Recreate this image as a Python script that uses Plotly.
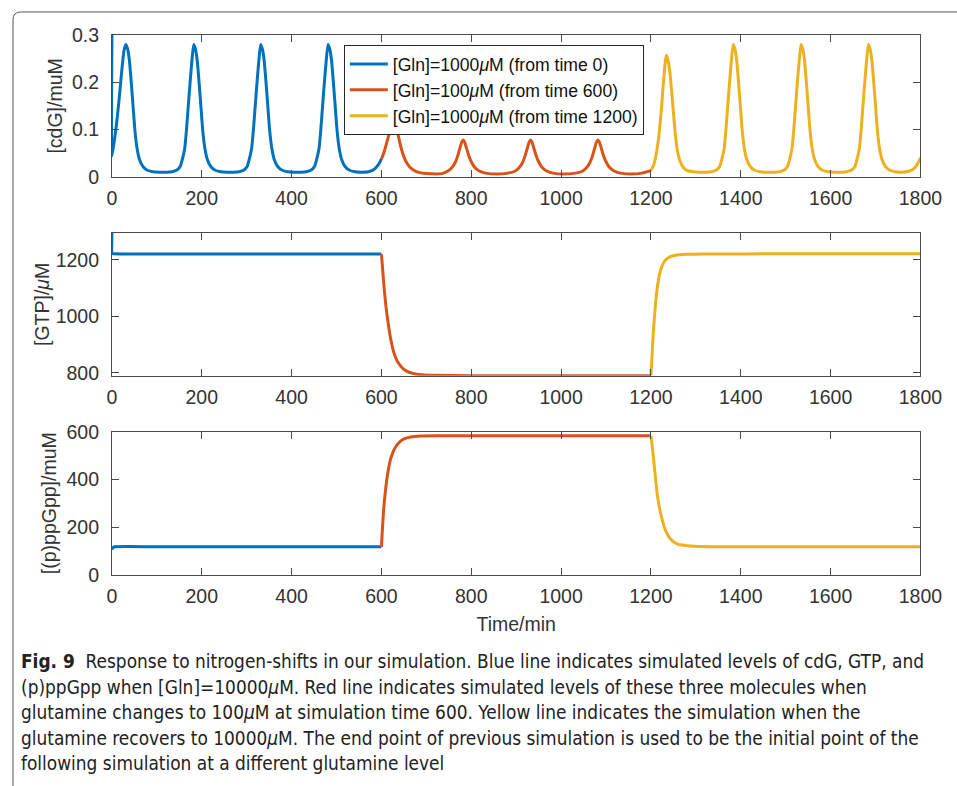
import plotly.graph_objects as go

# ---------------- data ----------------
# cdG, blue segment ([Gln]=1000 uM, from time 0)
cdg_blue_t = [0, 0, 5, 10, 15, 19, 23, 27, 31, 35, 39, 43, 47, 51, 56, 61, 69, 79, 91, 106,
              122, 134, 144, 152, 157, 162, 166, 170, 174, 178, 182, 186, 190, 194, 198, 202, 207, 212, 220, 230, 242, 257,
              271, 283, 293, 301, 306, 311, 315, 319, 323, 327, 331, 335, 339, 343, 347, 351, 356, 361, 369, 379, 391, 406,
              421, 433, 443, 451, 456, 461, 465, 469, 473, 477, 481, 485, 489, 493, 497, 501, 506, 511, 519, 529, 541, 556,
              571, 584, 594, 600]
cdg_blue_v = [0.30, 0.044, 0.075, 0.11, 0.155, 0.195, 0.235, 0.268, 0.28, 0.27, 0.245, 0.20, 0.15, 0.10, 0.06, 0.038, 0.022, 0.014, 0.011, 0.010,
              0.010, 0.011, 0.014, 0.022, 0.038, 0.06, 0.10, 0.15, 0.20, 0.245, 0.28, 0.27, 0.245, 0.20, 0.15, 0.10, 0.06, 0.038, 0.022, 0.014, 0.011, 0.010,
              0.010, 0.011, 0.014, 0.022, 0.038, 0.06, 0.10, 0.15, 0.20, 0.245, 0.28, 0.27, 0.245, 0.20, 0.15, 0.10, 0.06, 0.038, 0.022, 0.014, 0.011, 0.010,
              0.010, 0.011, 0.014, 0.022, 0.038, 0.06, 0.10, 0.15, 0.20, 0.245, 0.28, 0.27, 0.245, 0.20, 0.15, 0.10, 0.06, 0.038, 0.022, 0.014, 0.011, 0.010,
              0.011, 0.016, 0.027, 0.038]

# cdG, red segment ([Gln]=100 uM, from time 600)
cdg_red_t = [600, 605, 611, 617, 622, 625, 628, 631, 634, 638, 643, 649, 655, 662, 672, 685, 700, 720, 735,
             747, 757, 764, 770, 775, 779, 782, 785, 789, 794, 800, 807, 817, 832, 857,
             882, 897, 907, 914, 920, 925, 929, 932, 935, 939, 944, 950, 957, 967, 982, 1007,
             1032, 1047, 1057, 1064, 1070, 1075, 1079, 1082, 1085, 1089, 1094, 1100, 1107, 1117, 1132, 1157, 1180, 1192, 1200]
cdg_red_v = [0.038, 0.050, 0.070, 0.090, 0.104, 0.111, 0.114, 0.111, 0.102, 0.085, 0.064, 0.045, 0.032, 0.022, 0.014, 0.009, 0.007, 0.006, 0.007,
             0.012, 0.020, 0.030, 0.045, 0.062, 0.074, 0.078, 0.074, 0.062, 0.046, 0.032, 0.021, 0.013, 0.008, 0.006,
             0.008, 0.012, 0.020, 0.030, 0.045, 0.062, 0.074, 0.078, 0.074, 0.062, 0.046, 0.032, 0.021, 0.013, 0.008, 0.006,
             0.008, 0.012, 0.020, 0.030, 0.045, 0.062, 0.074, 0.078, 0.074, 0.062, 0.046, 0.032, 0.021, 0.013, 0.008, 0.006, 0.008, 0.011, 0.014]

# cdG, yellow segment ([Gln]=1000 uM, from time 1200)
cdg_yel_t = [1200, 1206, 1212, 1218, 1223, 1227, 1231, 1234, 1238, 1242, 1246, 1250, 1254, 1259, 1264, 1272, 1282, 1294, 1309,
             1323, 1335, 1345, 1353, 1358, 1363, 1367, 1371, 1375, 1379, 1383, 1387, 1391, 1395, 1399, 1403, 1408, 1413, 1421, 1431, 1443, 1458,
             1474, 1486, 1496, 1504, 1509, 1514, 1518, 1522, 1526, 1530, 1534, 1538, 1542, 1546, 1550, 1554, 1559, 1564, 1572, 1582, 1594, 1609,
             1624, 1636, 1646, 1654, 1659, 1664, 1668, 1672, 1676, 1680, 1684, 1688, 1692, 1696, 1700, 1704, 1709, 1714, 1722, 1732, 1744, 1759,
             1774, 1786, 1794, 1800]
cdg_yel_v = [0.014, 0.025, 0.050, 0.090, 0.140, 0.190, 0.235, 0.257, 0.247, 0.222, 0.182, 0.137, 0.092, 0.055, 0.035, 0.020, 0.013, 0.011, 0.010,
             0.010, 0.011, 0.014, 0.022, 0.038, 0.06, 0.10, 0.15, 0.20, 0.245, 0.28, 0.27, 0.245, 0.20, 0.15, 0.10, 0.06, 0.038, 0.022, 0.014, 0.011, 0.010,
             0.010, 0.011, 0.014, 0.022, 0.038, 0.06, 0.10, 0.15, 0.20, 0.245, 0.28, 0.27, 0.245, 0.20, 0.15, 0.10, 0.06, 0.038, 0.022, 0.014, 0.011, 0.010,
             0.010, 0.011, 0.014, 0.022, 0.038, 0.06, 0.10, 0.15, 0.20, 0.245, 0.28, 0.27, 0.245, 0.20, 0.15, 0.10, 0.06, 0.038, 0.022, 0.014, 0.011, 0.010,
             0.012, 0.018, 0.028, 0.040]

# GTP
gtp_blue_t = [0, 0.5, 3, 100, 300, 500, 600]
gtp_blue_v = [1295, 1222, 1221, 1220, 1220, 1220, 1220]
gtp_red_t = [600, 603, 606, 610, 615, 620, 627, 635, 645, 655, 670, 690, 720, 800, 1000, 1200]
gtp_red_v = [1220, 1160, 1100, 1035, 975, 925, 875, 842, 820, 807, 798, 793, 791, 790, 790, 790]
gtp_yel_t = [1200, 1203, 1206, 1210, 1214, 1218, 1224, 1232, 1242, 1255, 1280, 1320, 1500, 1800]
gtp_yel_v = [790, 880, 960, 1040, 1100, 1140, 1175, 1198, 1210, 1216, 1219, 1220, 1221, 1221]

# (p)ppGpp
pp_blue_t = [0, 2, 6, 100, 300, 500, 600]
pp_blue_v = [105, 114, 117, 117, 117, 117, 117]
pp_red_t = [600, 603, 606, 610, 614, 621, 632, 642, 650, 665, 688, 720, 800, 1000, 1200]
pp_red_v = [117, 220, 299, 370, 426, 490, 538, 560, 570, 578, 582, 583, 583, 583, 583]
pp_yel_t = [1200, 1204, 1207, 1214, 1222, 1233, 1244, 1259, 1288, 1330, 1500, 1800]
pp_yel_v = [583, 520, 464, 338, 254, 183, 149, 128, 120, 117, 117, 117]

legend_names = ["[Gln]=1000<i>μ</i>M (from time 0)",
                "[Gln]=100<i>μ</i>M (from time 600)",
                "[Gln]=1000<i>μ</i>M (from time 1200)"]
colors = ["#0072BD", "#D95319", "#EDB120"]

x_ticks = [0, 200, 400, 600, 800, 1000, 1200, 1400, 1600, 1800]

caption_lines = [
    "<b>Fig. 9</b>  Response to nitrogen-shifts in our simulation. Blue line indicates simulated levels of cdG, GTP, and",
    "(p)ppGpp when [Gln]=10000<i>μ</i>M. Red line indicates simulated levels of these three molecules when",
    "glutamine changes to 100<i>μ</i>M at simulation time 600. Yellow line indicates the simulation when the",
    "glutamine recovers to 10000<i>μ</i>M. The end point of previous simulation is used to be the initial point of the",
    "following simulation at a different glutamine level",
]

# ---------------- figure geometry ----------------
# observed mapping of figure pixels to the photographed picture
S, OX, OY = 0.973, 4.0, 10.0
W = int(round((957 - OX) / S))
H = int(round((786 - OY) / S))


def px_x(r):
    return (r - OX) / S / W


def px_y(r):
    return 1 - (r - OY) / S / H


fig = go.Figure()

panels = [
    ("x", "y", [(cdg_blue_t, cdg_blue_v), (cdg_red_t, cdg_red_v), (cdg_yel_t, cdg_yel_v)], True),
    ("x2", "y2", [(gtp_blue_t, gtp_blue_v), (gtp_red_t, gtp_red_v), (gtp_yel_t, gtp_yel_v)], False),
    ("x3", "y3", [(pp_blue_t, pp_blue_v), (pp_red_t, pp_red_v), (pp_yel_t, pp_yel_v)], False),
]
for xa, ya, series, show in panels:
    for i, (tt, vv) in enumerate(series):
        fig.add_trace(go.Scatter(
            x=tt, y=vv, mode="lines", xaxis=xa, yaxis=ya,
            name=legend_names[i], showlegend=show,
            line=dict(color=colors[i], width=3, shape="spline", smoothing=0.5),
        ))

xdom = [px_x(111), px_x(920)]
ydoms = [[px_y(176), px_y(34)], [px_y(375), px_y(232)], [px_y(574), px_y(431)]]

axis_common = dict(
    showline=True, linecolor="#4a4a4a", linewidth=1, mirror="ticks",
    ticks="inside", ticklen=7, tickcolor="#4a4a4a", tickwidth=1,
    showgrid=False, zeroline=False,
    tickfont=dict(family="Liberation Sans, Arial, sans-serif", size=19.5, color="#333333"),
)
title_font = dict(family="Liberation Sans, Arial, sans-serif", size=19.5, color="#333333")

layout = dict(
    width=W, height=H,
    margin=dict(l=0, r=0, t=0, b=0),
    paper_bgcolor="white", plot_bgcolor="white",
    showlegend=True,
    legend=dict(
        x=px_x(343), y=px_y(44), xanchor="left", yanchor="top",
        bordercolor="#262626", borderwidth=1, bgcolor="white",
        font=dict(family="Liberation Sans, Arial, sans-serif", size=17.6, color="#111111"),
        tracegroupgap=0, itemwidth=38,
    ),
)

y_specs = [
    dict(range=[0, 0.3], tickvals=[0, 0.1, 0.2, 0.3], ticktext=["0", "0.1", "0.2", "0.3"],
         title="[cdG]/muM", standoff=4),
    dict(range=[789.5, 1295], tickvals=[800, 1000, 1200], title="[GTP]/<i>μ</i>M", standoff=0),
    dict(range=[0, 600], tickvals=[0, 200, 400, 600], title="[(p)ppGpp]/muM", standoff=4),
]
for k in range(3):
    suffix = "" if k == 0 else str(k + 1)
    xa = dict(axis_common, domain=xdom, range=[0, 1800], tickvals=x_ticks,
              anchor="y" + suffix, ticklabelstandoff=4)
    if k == 2:
        xa["title"] = dict(text="Time/min", font=title_font, standoff=11)
    if k > 0:
        xa["matches"] = "x"
    ys = y_specs[k]
    ya = dict(axis_common, domain=ydoms[k], range=ys["range"], tickvals=ys["tickvals"],
              anchor="x" + suffix, ticklabelstandoff=8,
              title=dict(text=ys["title"], font=title_font, standoff=ys["standoff"]))
    if "ticktext" in ys:
        ya["ticktext"] = ys["ticktext"]
    layout["xaxis" + suffix] = xa
    layout["yaxis" + suffix] = ya

fig.update_layout(**layout)

# outer frame (rounded top-left corner)
fx = px_x(12)
top = 1 - 1.0 / H
fig.add_shape(type="path", xref="paper", yref="paper",
              path=f"M {fx},0 L {fx},{top - 8 / H} Q {fx},{top} {fx + 8 / W},{top} L 1,{top}",
              line=dict(color="#555555", width=1))

cap_y = [660, 686, 711, 737, 762]
for line, yy in zip(caption_lines, cap_y):
    fig.add_annotation(text=line, x=px_x(18), y=px_y(yy), xref="paper", yref="paper",
                       xanchor="left", yanchor="middle", showarrow=False,
                       font=dict(family="DejaVu Sans Condensed, sans-serif",
                                 size=18.9, color="#222222"))

fig.write_html("out.html", config={"displayModeBar": False},
               post_script="document.body.style.margin='0';")
